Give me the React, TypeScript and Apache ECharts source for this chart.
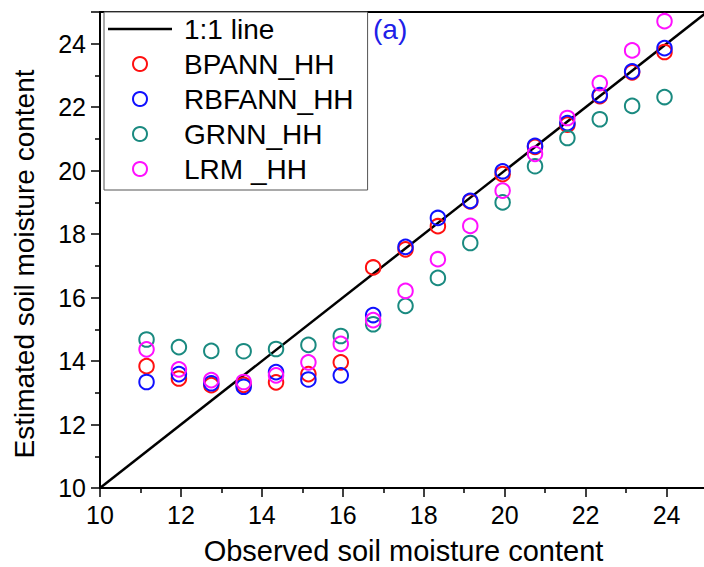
import React, { useEffect, useRef } from "react";
import * as echarts from "echarts";

const observed = [11.15, 11.95, 12.75, 13.55, 14.35, 15.15, 15.95, 16.75, 17.55, 18.35, 19.15, 19.95, 20.75, 21.55, 22.35, 23.15, 23.95];
const bpannHH = [13.84, 13.45, 13.24, 13.25, 13.33, 13.59, 13.96, 16.95, 17.52, 18.25, 19.03, 19.89, 20.75, 21.45, 22.35, 23.1, 23.74];
const rbfannHH = [13.34, 13.59, 13.3, 13.19, 13.65, 13.42, 13.55, 15.45, 17.6, 18.51, 19.05, 19.98, 20.78, 21.5, 22.38, 23.13, 23.86];
const grnnHH = [14.68, 14.44, 14.32, 14.31, 14.38, 14.51, 14.79, 15.16, 15.74, 16.62, 17.72, 19.0, 20.14, 21.03, 21.62, 22.04, 22.32];
const lrmHH = [14.37, 13.74, 13.4, 13.34, 13.55, 13.96, 14.54, 15.29, 16.21, 17.21, 18.26, 19.37, 20.53, 21.66, 22.76, 23.79, 24.71];
const oneToOne = [10, 25];

const seriesNames = ["BPANN_HH", "RBFANN_HH", "GRNN_HH", "LRM _HH"];
const seriesValues = [bpannHH, rbfannHH, grnnHH, lrmHH];
const seriesColors = ["#ff1010", "#1010ff", "#1a8a80", "#ff10ff"];

const FONT = "'Liberation Sans', Arial, sans-serif";

export default function App() {
  const ref = useRef<HTMLDivElement>(null);
  useEffect(() => {
    if (!ref.current) return;
    const chart = echarts.init(ref.current, undefined, { renderer: "svg" });
    const axisCommon = {
      type: "value",
      min: 10,
      max: 25,
      interval: 2,
      axisLine: { show: true, lineStyle: { color: "#000", width: 2 } },
      axisTick: { show: true, inside: false, length: 9, lineStyle: { color: "#000", width: 1.5 } },
      minorTick: { show: true, splitNumber: 2, length: 5, lineStyle: { color: "#000", width: 1.5 } },
      splitLine: { show: false },
      nameLocation: "middle",
    };
    const scatterSeries = seriesNames.map((name, i) => ({
      name,
      type: "scatter",
      symbol: "circle",
      symbolSize: 14.5,
      itemStyle: { color: "rgba(255,255,255,0)", borderColor: seriesColors[i], borderWidth: 2, opacity: 1 },
      data: observed.map((x, j) => [x, seriesValues[i][j]]),
      z: 3 + i,
    }));
    chart.setOption({
      animation: false,
      backgroundColor: "#fff",
      grid: { left: 100, width: 607, top: 12, height: 476, containLabel: false, outerBoundsMode: "none" },
      xAxis: [
        {
          ...axisCommon,
          name: "Observed soil moisture content",
          nameGap: 48,
          nameTextStyle: { fontFamily: FONT, fontSize: 29, color: "#000" },
          axisLabel: {
            fontFamily: FONT,
            fontSize: 25,
            color: "#000",
            margin: 14,
            formatter: (v: number) => (v > 24 ? "" : String(v)),
          },
        },
        {
          type: "value",
          position: "top",
          min: 10,
          max: 25,
          axisLine: { show: true, lineStyle: { color: "#000", width: 2 } },
          axisTick: { show: false },
          axisLabel: { show: false },
          splitLine: { show: false },
        },
      ],
      yAxis: [
        {
          ...axisCommon,
          name: "Estimated soil moisture content",
          nameGap: 62,
          nameTextStyle: { fontFamily: FONT, fontSize: 28, color: "#000", padding: [0, 28, 0, 0] },
          axisLabel: {
            fontFamily: FONT,
            fontSize: 25,
            color: "#000",
            margin: 14,
            formatter: (v: number) => (v > 24 ? "" : String(v)),
          },
        },
      ],
      legend: {
        show: true,
        orient: "vertical",
        left: 104,
        top: 12,
        padding: [3, 14, 7, 4],
        itemGap: 7,
        itemWidth: 64,
        itemHeight: 14,
        backgroundColor: "#fff",
        borderColor: "#555",
        borderWidth: 1,
        borderRadius: 0,
        textStyle: { fontFamily: FONT, fontSize: 28, color: "#000", lineHeight: 26.5, padding: [0, 0, 0, 7] },
        data: [{ name: "1:1 line", icon: "path://M0 0 H64 V2.5 H0 Z" }, ...seriesNames],
      },
      graphic: [
        {
          type: "text",
          left: 373,
          top: 15,
          style: { text: "(a)", fontFamily: FONT, fontSize: 28, fill: "#2020e8" },
        },
      ],
      series: [
        {
          name: "1:1 line",
          type: "line",
          symbol: "none",
          lineStyle: { color: "#000", width: 2.5 },
          itemStyle: { color: "#000" },
          data: oneToOne.map((v) => [v, v]),
          z: 2,
        },
        ...scatterSeries,
      ],
    });
    return () => chart.dispose();
  }, []);
  return <div ref={ref} style={{ position: "fixed", left: 0, top: 0, width: 704, height: 567 }} />;
}
